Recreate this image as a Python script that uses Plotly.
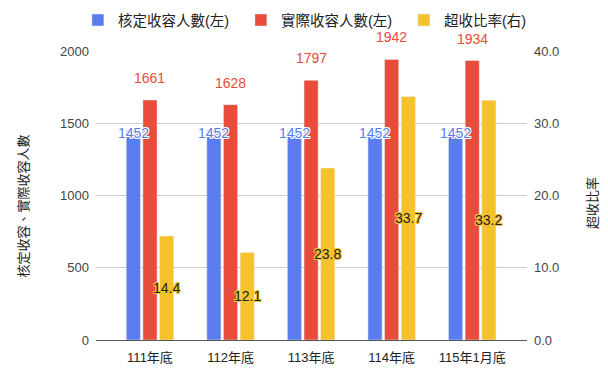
import plotly.graph_objects as go

categories = ["111年底", "112年底", "113年底", "114年底", "115年1月底"]
approved = [1452, 1452, 1452, 1452, 1452]
actual = [1661, 1628, 1797, 1942, 1934]
ratio = [14.4, 12.1, 23.8, 33.7, 33.2]
series_names = ["核定收容人數(左)", "實際收容人數(左)", "超收比率(右)"]
left_ticks = [0, 500, 1000, 1500, 2000]
right_ticks = [0, 10, 20, 30, 40]

BLUE = "#5b7cef"
RED = "#e84c3b"
YELLOW = "#f6c22b"
FONT = "Arial, 'Liberation Sans', 'Noto Sans CJK TC', sans-serif"

def halo(c):
    return ", ".join(f"{dx}px {dy}px 0 {c}" for dx in (-1, 0, 1) for dy in (-1, 0, 1) if dx or dy)

fig = go.Figure()
fig.add_bar(x=categories, y=approved, name=series_names[0], marker_color=BLUE, offsetgroup="a", yaxis="y")
fig.add_bar(x=categories, y=actual, name=series_names[1], marker_color=RED, offsetgroup="b", yaxis="y")
fig.add_bar(x=categories, y=ratio, name=series_names[2], marker_color=YELLOW, offsetgroup="c", yaxis="y2")

slot = 16.7
for c, v in zip(categories, approved):
    fig.add_annotation(x=c, y=v, xref="x", yref="y", text=str(v), showarrow=False, xshift=-slot, yshift=-3,
                       font=dict(family=FONT, size=14, color=BLUE, shadow=halo("white")))
for c, v in zip(categories, actual):
    fig.add_annotation(x=c, y=v, xref="x", yref="y", text=str(v), showarrow=False, xshift=0, yshift=22,
                       font=dict(family=FONT, size=14, color=RED, shadow=halo("white")))
for c, v in zip(categories, ratio):
    fig.add_annotation(x=c, y=v / 2, xref="x", yref="y2", text=f"{v:.1f}", showarrow=False, xshift=slot,
                       font=dict(family=FONT, size=14, color="#222222", shadow=halo(YELLOW)))

fig.add_annotation(text="核定收容、實際收容人數", xref="paper", yref="paper", x=-0.168, y=0.464, textangle=-90,
                   xanchor="center", yanchor="middle",
                   showarrow=False, font=dict(family=FONT, size=13, color="#222222"))
fig.add_annotation(text="超收比率", xref="paper", yref="paper", x=1.151, y=0.474, textangle=-90,
                   xanchor="center", yanchor="middle",
                   showarrow=False, font=dict(family=FONT, size=13, color="#222222"))

fig.update_layout(
    width=600, height=366,
    margin=dict(l=88, r=81, t=43, b=34, autoexpand=False),
    paper_bgcolor="white", plot_bgcolor="white",
    barmode="group", bargap=0.38, bargroupgap=0.15,
    font=dict(family=FONT, size=13, color="#444444"),
    showlegend=True,
    legend=dict(orientation="h", x=-0.042, xanchor="left", y=1.107, yanchor="middle",
                font=dict(family=FONT, size=14.5, color="#222222"), itemwidth=30, tracegroupgap=0,
                entrywidth=118, entrywidthmode="pixels"),
    xaxis=dict(range=[-0.67, 4.68], showgrid=False, showline=True, linecolor="#555555", linewidth=1,
               ticks="", ticklabelstandoff=5, tickfont=dict(size=13, color="#222222")),
    yaxis=dict(range=[0, 2000], tickvals=left_ticks, showgrid=True, gridcolor="#cccccc", zeroline=False,
               ticks="", ticklabelstandoff=6, tickfont=dict(size=13, color="#444444")),
    yaxis2=dict(range=[0, 40], tickvals=right_ticks, tickformat=".1f", overlaying="y", side="right",
                showgrid=False, zeroline=False, ticks="", ticklabelstandoff=6,
                tickfont=dict(size=13, color="#444444")),
)

fig.write_html("out.html")
